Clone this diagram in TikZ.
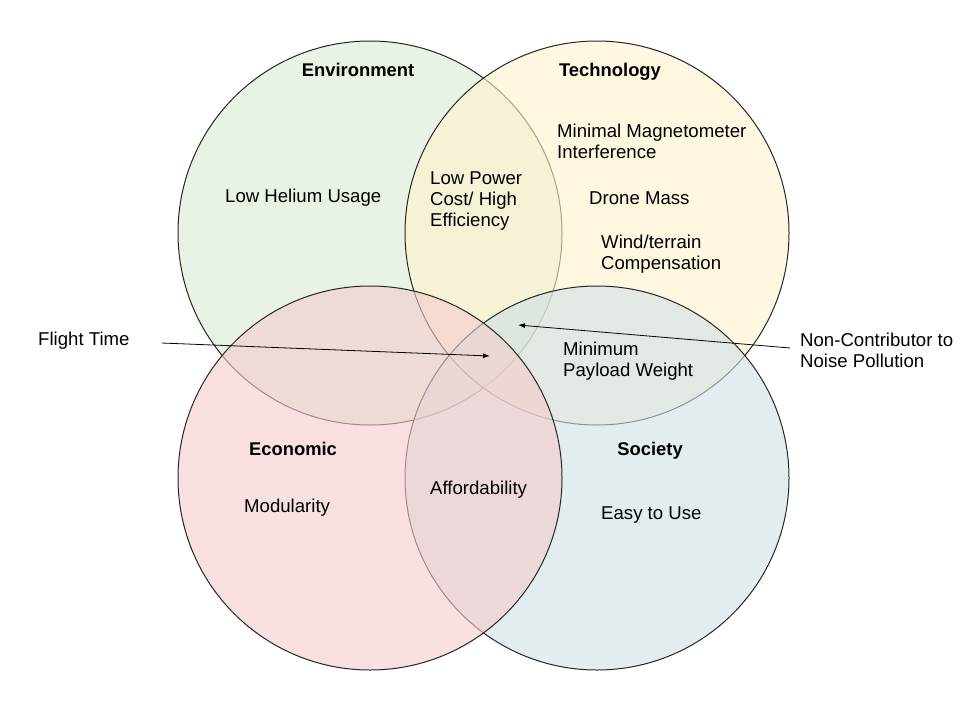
\documentclass[tikz,border=0pt]{standalone}
\usepackage{fontspec}
\setmainfont{Liberation Sans}
\usetikzlibrary{positioning, arrows.meta}
\definecolor{ENVgreen}{RGB}{217, 234, 211}
\definecolor{TECyellow}{RGB}{255, 242, 204}
\definecolor{ECOred}{RGB}{244, 204, 204}
\definecolor{SOCblue}{RGB}{208, 224, 227}
\tikzset{
  venn/.style={circle, draw=black!85, line width=1pt, fill opacity=0.6,
    minimum size=384pt, inner sep=0pt},
  title/.style={font=\bfseries\fontsize{18.4}{21}\selectfont, inner sep=0pt},
  item/.style={font=\fontsize{18.6}{21}\selectfont, align=left, anchor=west, inner sep=0pt},
  point/.style={-{Latex[length=7pt, width=5pt]}, line width=0.8pt},
}
\begin{document}
\begin{tikzpicture}[x=1pt, y=-1pt]
    \useasboundingbox (0,0) rectangle (960,720);
    % the four sets
    \node[venn, fill=ENVgreen] (env) at (370,233) {};
    \node[venn, fill=TECyellow] (tech) at (597,233) {};
    \node[venn, fill=SOCblue] (soc) at (597,478) {};
    \node[venn, fill=ECOred] (econ) at (370,478) {};
    \node[title] (envtitle) at (358,70) {Environment};
    \node[title] (techtitle) at (610,72) {Technology};
    \node[title] (econtitle) at (293,449) {Economic};
    \node[title] (soctitle) at (650,451) {Society};
    % items
    \node[item] (helium) at (225,198) {Low Helium Usage};
    \node[item] (power) at (430,201) {Low Power\\Cost/ High\\Efficiency};
    \node[item] (magnet) at (557,141) {Minimal Magnetometer\\Interference};
    \node[item] (mass) at (589,198) {Drone Mass};
    \node[item] (wind) at (601,254) {Wind/terrain\\Compensation};
    \node[item] (payload) at (563,361) {Minimum\\Payload Weight};
    \node[item] (modular) at (244,508) {Modularity};
    \node[item] (afford) at (430,490) {Affordability};
    \node[item] (easy) at (601,515) {Easy to Use};
    \node[item] (flight) at (38,341) {Flight Time};
    \node[item] (noise) at (800,350) {Non-Contributor to\\Noise Pollution};
    \coordinate[right=32pt of flight, yshift=-2pt] (flightfrom);
    \coordinate (flightto) at (490,356);
    \coordinate[left=10pt of noise, yshift=2pt] (noisefrom);
    \coordinate (noiseto) at (518,325);
    \draw[point] (flightfrom) -- (flightto);
    \draw[point] (noisefrom) -- (noiseto);
\end{tikzpicture}
\end{document}
